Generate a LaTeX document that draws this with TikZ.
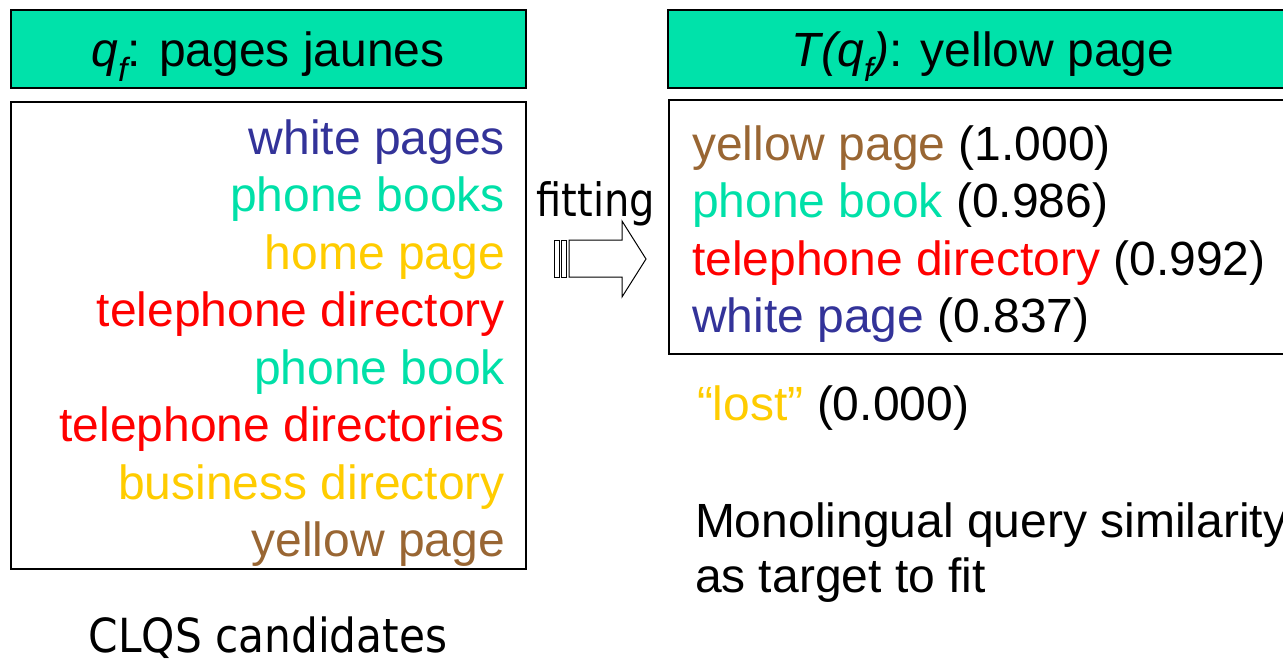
\documentclass[tikz,border=0pt]{standalone}
\usepackage{fontspec}
\setmainfont{Liberation Sans}
\newfontfamily\tahomaish[FakeStretch=0.87]{DejaVu Sans}
\newfontfamily\tahomawide[FakeStretch=0.90]{DejaVu Sans}
\definecolor{hdrgreen}{RGB}{0,226,170}
\definecolor{txgreen}{RGB}{0,224,168}
\definecolor{txblue}{RGB}{51,51,153}
\definecolor{txyellow}{RGB}{255,204,0}
\definecolor{txbrown}{RGB}{153,102,51}
\definecolor{txred}{RGB}{255,0,0}
\begin{document}
\begin{tikzpicture}[x=1pt,y=-1pt,
  big/.style={font=\fontsize{48}{57}\selectfont, inner sep=0pt, outer sep=0pt},
  rlab/.style={big, anchor=base east},
  llab/.style={big, anchor=base west},
  frame/.style={draw=black, line width=2pt},
  hdr/.style={frame, fill=hdrgreen},
  tah/.style={font=\tahomaish\fontsize{46}{55}\selectfont, inner sep=0pt, outer sep=0pt},
  tahw/.style={font=\tahomawide\fontsize{47}{55}\selectfont, inner sep=0pt, outer sep=0pt}]
\useasboundingbox (0,0) rectangle (1283,662);
\clip (0,0) rectangle (1283,662);
% headers
\draw[hdr] (11,10) rectangle (526,88);
\node[big, anchor=base] (hl) at (268,66) {\itshape q\textsubscript{f}\upshape: pages jaunes};
\draw[hdr] (668,10) rectangle (1300,88);
\node[big, anchor=base] (hr) at (983,66) {\itshape T(q\textsubscript{f})\upshape: yellow page};
% boxes
\draw[frame] (11,102) rectangle (526,569);
\draw[frame] (669,100) rectangle (1300,354);
% left list
\node[rlab, text=txblue]   (l1) at (505,154)   {white pages};
\node[rlab, text=txgreen]  (l2) at (505,211.5) {phone books};
\node[rlab, text=txyellow] (l3) at (505,269)   {home page};
\node[rlab, text=txred]    (l4) at (505,326.5) {telephone directory};
\node[rlab, text=txgreen]  (l5) at (505,384)   {phone book};
\node[rlab, text=txred]    (l6) at (505,441.5) {telephone directories};
\node[rlab, text=txyellow] (l7) at (505,499)   {business directory};
\node[rlab, text=txbrown]  (l8) at (505,556.5) {yellow page};
% right list
\node[llab] (r1) at (692,160)   {\textcolor{txbrown}{yellow page} (1.000)};
\node[llab] (r2) at (692,217.5) {\textcolor{txgreen}{phone book} (0.986)};
\node[llab] (r3) at (692,275)   {\textcolor{txred}{telephone directory} (0.992)};
\node[llab] (r4) at (692,332.5) {\textcolor{txblue}{white page} (0.837)};
\node[llab] (lost) at (697,420) {\textcolor{txyellow}{“lost”} (0.000)};
\node[llab] (m1) at (695,537) {Monolingual query similarity};
\node[llab] (m2) at (695,592) {as target to fit};
% fitting arrow
\node[tah, anchor=base] (fit) at (596,216) {fitting};
\draw[line width=1pt] (554,240) rectangle (559,277);
\draw[line width=1pt] (561,240) rectangle (566,277);
\draw[line width=1pt, line join=miter] (569,240) -- (622,240) -- (622,221) -- (646,259) -- (622,297) -- (622,277) -- (569,277) -- cycle;
% caption
\node[tahw, anchor=base] (cap) at (268,652) {CLQS candidates};
\end{tikzpicture}
\end{document}
